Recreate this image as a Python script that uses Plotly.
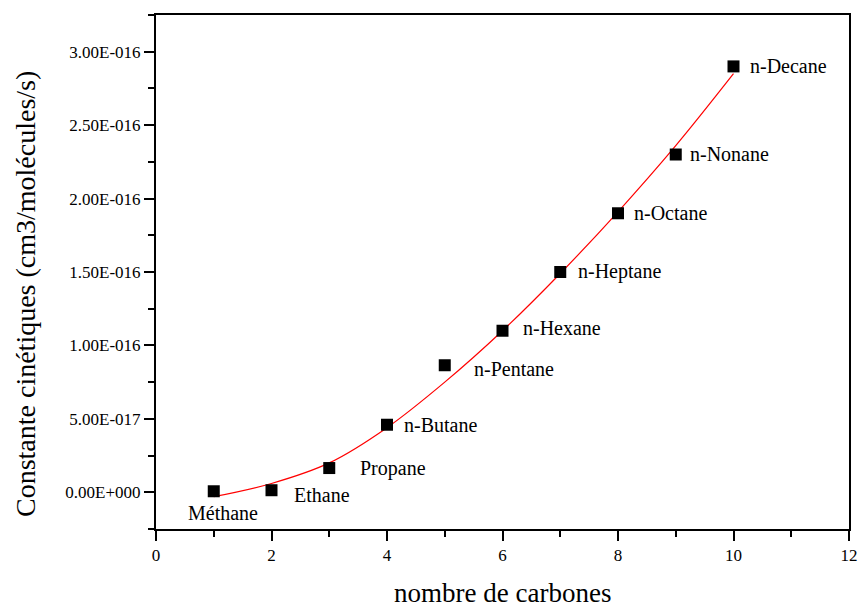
import plotly.graph_objects as go

# ---- data ----
carbons = [1, 2, 3, 4, 5, 6, 7, 8, 9, 10]
names = ["Méthane", "Ethane", "Propane", "n-Butane", "n-Pentane", "n-Hexane",
         "n-Heptane", "n-Octane", "n-Nonane", "n-Decane"]
rate = [0.7e-18, 1.4e-18, 1.65e-17, 4.6e-17, 8.65e-17, 1.10e-16,
        1.50e-16, 1.90e-16, 2.30e-16, 2.90e-16]
fit_x = [1, 2, 3, 4, 5, 6, 7, 8, 9, 10]
fit_y = [-0.03e-16, 0.06e-16, 0.20e-16, 0.44e-16, 0.75e-16, 1.10e-16,
         1.49e-16, 1.91e-16, 2.36e-16, 2.85e-16]
y_tickvals = [0, 0.5e-16, 1.0e-16, 1.5e-16, 2.0e-16, 2.5e-16, 3.0e-16]
y_ticktext = ["0.00E+000", "5.00E-017", "1.00E-016", "1.50E-016", "2.00E-016",
              "2.50E-016", "3.00E-016"]
x_tickvals = [0, 2, 4, 6, 8, 10, 12]
x_title = "nombre de carbones"
y_title = "Constante cinétiques (cm3/molécules/s)"

# ---- label offsets (pixels) ----
label_shift = [(-28, -22), (20, -5), (29, 0), (15, 0), (27, -4), (18, 3),
               (16, 1), (14, 0), (12, 1), (14, 0)]

FONT = "Liberation Serif"

fig = go.Figure()
fig.add_trace(go.Scatter(x=fit_x, y=fit_y, mode="lines",
                         line=dict(color="red", width=1.2, shape="spline"),
                         hoverinfo="skip", showlegend=False))
fig.add_trace(go.Scatter(x=carbons, y=rate, mode="markers",
                         marker=dict(symbol="square", size=12, color="black"),
                         showlegend=False))

for xv, yv, nm, (dx, dy) in zip(carbons, rate, names, label_shift):
    fig.add_annotation(x=xv, y=yv, xref="x", yref="y", text=nm, showarrow=False,
                       xanchor="left", yanchor="middle", xshift=dx, yshift=dy,
                       font=dict(family=FONT, size=20, color="black"))

# axis titles as annotations for exact placement
fig.add_annotation(x=0.5, y=0, xref="paper", yref="paper", text=x_title,
                   showarrow=False, xanchor="center", yanchor="middle", yshift=-64,
                   font=dict(family=FONT, size=27, color="black"))
fig.add_annotation(x=0, y=0, xref="paper", yref="paper", text=y_title,
                   showarrow=False, textangle=-90, xanchor="center", yanchor="middle",
                   xshift=-131, yshift=235,
                   font=dict(family=FONT, size=28, color="black"))

axis_common = dict(showline=True, linecolor="black", linewidth=2, mirror=True,
                   showgrid=False, zeroline=False, ticks="outside", ticklen=10,
                   tickwidth=2, tickcolor="black",
                   tickfont=dict(family=FONT, size=17, color="black"))

fig.update_xaxes(range=[0, 12], tickvals=x_tickvals,
                 minor=dict(dtick=1, ticks="outside", ticklen=6, tickwidth=2,
                            tickcolor="black", showgrid=False),
                 **axis_common)
fig.update_yaxes(range=[-0.25e-16, 3.25e-16], tickvals=y_tickvals, ticktext=y_ticktext,
                 minor=dict(tickvals=[-0.25e-16, 0.25e-16, 0.75e-16, 1.25e-16, 1.75e-16,
                                      2.25e-16, 2.75e-16, 3.25e-16],
                            ticks="outside", ticklen=6, tickwidth=2,
                            tickcolor="black", showgrid=False),
                 **axis_common)

fig.update_layout(width=860, height=607, plot_bgcolor="white", paper_bgcolor="white",
                  margin=dict(l=156, r=11, t=15, b=78, autoexpand=False), hovermode=False)

fig.write_html("out.html", config={"displayModeBar": False},
               post_script="document.body.style.margin='0px';"
                           "document.body.style.overflow='hidden';")
